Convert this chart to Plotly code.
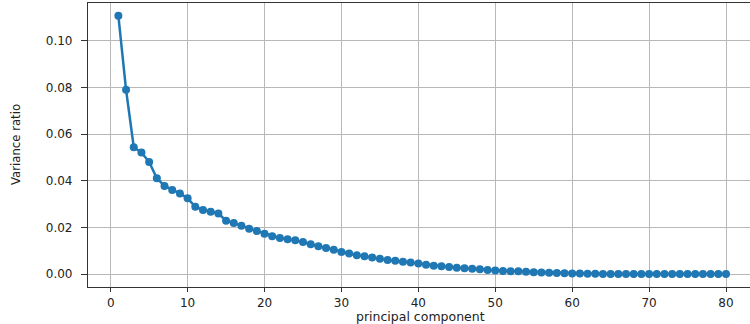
import plotly.graph_objects as go

components = list(range(1, 81))
variance_ratio = [
    0.1107, 0.0790, 0.0544, 0.0521, 0.0481, 0.0411, 0.0378, 0.0361, 0.0346, 0.0325,
    0.0289, 0.0275, 0.0267, 0.0260, 0.0229, 0.0219, 0.0208, 0.0195, 0.0185, 0.0173,
    0.0163, 0.0155, 0.0150, 0.0145, 0.0138, 0.0128, 0.0120, 0.0112, 0.0105, 0.0095,
    0.0089, 0.0081, 0.0077, 0.0071, 0.0066, 0.0061, 0.0057, 0.0053, 0.0050, 0.0046,
    0.0040, 0.0036, 0.0034, 0.0031, 0.0028, 0.0025, 0.0023, 0.0021, 0.0018, 0.0016,
    0.0014, 0.0013, 0.0012, 0.0010, 0.0008, 0.0007, 0.0006, 0.0005, 0.0004, 0.0003,
    0.0003, 0.0002, 0.00015, 0.00012, 0.0001, 0.0001, 0.00009, 0.00008, 0.00008, 0.00007,
    0.00007, 0.00006, 0.00006, 0.00005, 0.00005, 0.00004, 0.00004, 0.00004, 0.00003, 0.00003,
]
x_ticks = [0, 10, 20, 30, 40, 50, 60, 70, 80]
y_ticks = [0.00, 0.02, 0.04, 0.06, 0.08, 0.10]
y_tick_labels = ["0.00", "0.02", "0.04", "0.06", "0.08", "0.10"]
x_title = "principal component"
y_title = "Variance ratio"

fig = go.Figure()
fig.add_trace(go.Scatter(
    x=components, y=variance_ratio, mode="lines+markers",
    line=dict(color="#1f77b4", width=2.5),
    marker=dict(color="#1f77b4", size=8, symbol="circle"),
    showlegend=False,
))

tick_font = dict(family="DejaVu Sans", size=12, color="#222222")
fig.update_layout(
    width=750, height=324,
    margin=dict(l=88, r=0, t=3, b=37, autoexpand=False),
    plot_bgcolor="white", paper_bgcolor="white",
    xaxis=dict(
        range=[-2.95, 83.12], tickvals=x_ticks, automargin=False,
        showgrid=True, gridcolor="#b8b8b8", gridwidth=1,
        showline=True, linecolor="#333333", linewidth=1.2, mirror=True,
        ticks="outside", ticklen=4, tickcolor="#333333",
        tickfont=tick_font, zeroline=False,
    ),
    yaxis=dict(
        range=[-0.0055, 0.1162], tickvals=y_ticks, ticktext=y_tick_labels,
        automargin=False,
        showgrid=True, gridcolor="#b8b8b8", gridwidth=1,
        showline=True, linecolor="#333333", linewidth=1.2,
        ticks="outside", ticklen=6, tickcolor="#333333",
        tickfont=tick_font, zeroline=False, ticklabelstandoff=6,
    ),
    annotations=[
        dict(text=x_title, xref="paper", yref="paper", x=0.503, y=0,
             xanchor="center", yanchor="middle", yshift=-29.5, showarrow=False,
             font=dict(family="DejaVu Sans", size=12.5, color="#222222")),
        dict(text=y_title, xref="paper", yref="paper", x=0, y=0.5,
             xanchor="center", yanchor="middle", xshift=-73, textangle=-90,
             showarrow=False,
             font=dict(family="DejaVu Sans Condensed, Liberation Sans Narrow, sans-serif",
                       size=13, color="#222222")),
    ],
)

fig.write_html("out.html", config={"displayModeBar": False},
               post_script="document.body.style.margin='0';document.body.style.overflow='hidden';")
